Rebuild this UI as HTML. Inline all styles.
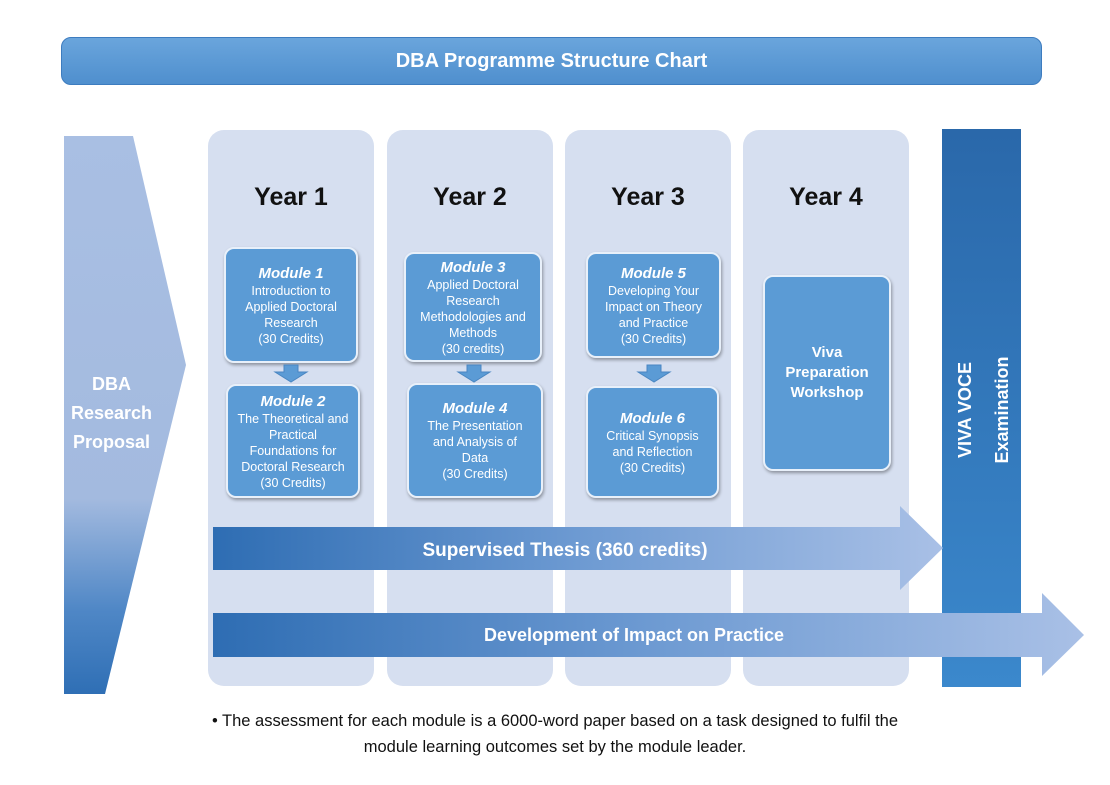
<!DOCTYPE html>
<html><head><style>
body{margin:0;width:1110px;height:785px;background:#fff;position:relative;font-family:"Liberation Sans",sans-serif;overflow:hidden}
.a{position:absolute}
.col{position:absolute;top:130px;height:556px;width:166px;background:#d6dff0;border-radius:16px}
.yr{position:absolute;width:166px;text-align:center;top:183px;font-size:25px;font-weight:bold;color:#111}
.mod{position:absolute;background:#5b9bd5;border:2px solid #e8f0fa;border-radius:10px;box-shadow:1px 2px 3px rgba(0,0,0,.35);color:#fff;text-align:center;font-size:12.5px;line-height:16px;display:flex;flex-direction:column;justify-content:center;box-sizing:border-box}
.mod b{font-size:15px;font-style:italic;line-height:19px}
</style></head><body>
<div class="a" style="left:61px;top:37px;width:981px;height:48px;border-radius:10px;background:linear-gradient(#6aa5dc,#4f8fce);border:1px solid #3d7cbf;box-sizing:border-box;color:#fff;font-weight:bold;font-size:20px;text-align:center;line-height:46px">DBA Programme Structure Chart</div>

<svg class="a" style="left:0;top:0" width="1110" height="785">
<defs><linearGradient id="g" x1="0" y1="0" x2="0" y2="1"><stop offset="0" stop-color="#a9bfe3"/><stop offset="0.65" stop-color="#a3badf"/><stop offset="0.85" stop-color="#4f87c6"/><stop offset="1" stop-color="#2f6fb5"/></linearGradient></defs>
<polygon points="64,136 133,136 186,365 105,694 64,694" fill="url(#g)"/>
</svg>
<div class="a" style="left:64px;top:370px;width:95px;text-align:center;color:#fff;font-weight:bold;font-size:18px;line-height:29px">DBA<br>Research<br>Proposal</div>

<div class="col" style="left:208px"></div>
<div class="col" style="left:387px"></div>
<div class="col" style="left:565px"></div>
<div class="col" style="left:743px"></div>
<div class="yr" style="left:208px">Year 1</div>
<div class="yr" style="left:387px">Year 2</div>
<div class="yr" style="left:565px">Year 3</div>
<div class="yr" style="left:743px">Year 4</div>

<div class="mod" style="left:224px;top:247px;width:134px;height:116px"><b>Module 1</b>Introduction to<br>Applied Doctoral<br>Research<br>(30 Credits)</div>
<div class="mod" style="left:226px;top:384px;width:134px;height:114px"><b>Module 2</b>The Theoretical and<br>Practical<br>Foundations for<br>Doctoral Research<br>(30 Credits)</div>
<div class="mod" style="left:404px;top:252px;width:138px;height:110px"><b>Module 3</b>Applied Doctoral<br>Research<br>Methodologies and<br>Methods<br>(30 credits)</div>
<div class="mod" style="left:407px;top:383px;width:136px;height:115px"><b>Module 4</b>The Presentation<br>and Analysis of<br>Data<br>(30 Credits)</div>
<div class="mod" style="left:586px;top:252px;width:135px;height:106px"><b>Module 5</b>Developing Your<br>Impact on Theory<br>and Practice<br>(30 Credits)</div>
<div class="mod" style="left:586px;top:386px;width:133px;height:112px"><b>Module 6</b>Critical Synopsis<br>and Reflection<br>(30 Credits)</div>
<div class="mod" style="left:763px;top:275px;width:128px;height:196px;font-weight:bold;font-size:15px;line-height:20px">Viva<br>Preparation<br>Workshop</div>

<svg class="a" style="left:0;top:0" width="1110" height="785">
<g fill="#5b9bd5" stroke="#4a86c2" stroke-width="1">
<polygon points="284,365 298,365 298,372 307,372 291,382 275,372 284,372"/>
<polygon points="467,365 481,365 481,372 490,372 474,382 458,372 467,372"/>
<polygon points="647,365 661,365 661,372 670,372 654,382 638,372 647,372"/>
</g>
<defs>
<linearGradient id="h" x1="0" y1="0" x2="1" y2="0"><stop offset="0" stop-color="#2e6db3"/><stop offset="0.5" stop-color="#6d9ad2"/><stop offset="1" stop-color="#a9c0e6"/></linearGradient>
<linearGradient id="v" x1="0" y1="0" x2="0" y2="1"><stop offset="0" stop-color="#2a68aa"/><stop offset="1" stop-color="#3b88cc"/></linearGradient>
</defs>
<rect x="942" y="129" width="79" height="558" fill="url(#v)"/>
<polygon points="213,527 900,527 900,506 943,548 900,590 900,570 213,570" fill="url(#h)"/>
<polygon points="213,613 1042,613 1042,593 1084,635 1042,676 1042,657 213,657" fill="url(#h)"/>
<text x="565" y="556" fill="#fff" font-family="Liberation Sans" font-weight="bold" font-size="19" text-anchor="middle">Supervised Thesis (360 credits)</text>
<text x="634" y="641" fill="#fff" font-family="Liberation Sans" font-weight="bold" font-size="18" text-anchor="middle">Development of Impact on Practice</text>
<text transform="translate(971,410) rotate(-90)" fill="#fff" font-family="Liberation Sans" font-weight="bold" font-size="18" text-anchor="middle">VIVA  VOCE</text>
<text transform="translate(1008,410) rotate(-90)" fill="#fff" font-family="Liberation Sans" font-weight="bold" font-size="18" text-anchor="middle">Examination</text>
</svg>

<div class="a" style="left:100px;top:708px;width:910px;text-align:center;font-size:16.5px;line-height:26px;color:#111">• The assessment for each module is a 6000-word paper based on a task designed to fulfil the<br>module learning outcomes set by the module leader.</div>
</body></html>
